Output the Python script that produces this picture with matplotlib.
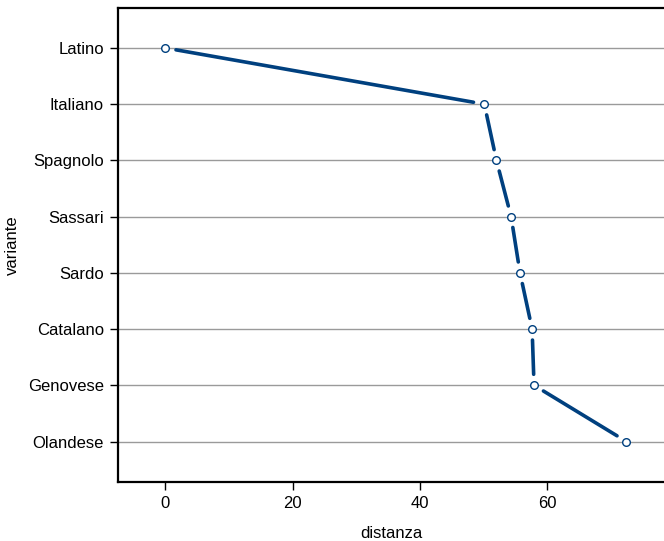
import numpy as np
import matplotlib
matplotlib.use("Agg")
import matplotlib.pyplot as plt

plt.rcParams['font.family'] = ['Liberation Sans', 'DejaVu Sans']

# varianti e distanze
varianti = ["Latino", "Italiano", "Spagnolo", "Sassari", "Sardo",
            "Catalano", "Genovese", "Olandese"]
distanza = [0.0, 50.1, 52.0, 54.3, 55.7, 57.6, 57.9, 72.4]

blu = "#00407f"

fig = plt.figure(figsize=(6.64, 5.41), dpi=100)
ax = fig.add_axes([118 / 664, 59 / 541, 1 - 118 / 664, 474 / 541])

ypos = np.arange(len(varianti))[::-1]
ax.set_xlim(-7.4, 78.3)
ax.set_ylim(-0.72, len(varianti) - 1 + 0.71)

# linee orizzontali grigie
for y in ypos:
    ax.axhline(y, color="#9a9a9a", lw=1.0, zorder=1)

# segmenti con spazio vicino ai punti (stile type="b")
fig.canvas.draw()
pts = ax.transData.transform(np.column_stack([distanza, ypos]))
gap = 11
inv = ax.transData.inverted()
for i in range(len(pts) - 1):
    p0, p1 = pts[i], pts[i + 1]
    d = p1 - p0
    L = np.hypot(*d)
    u = d / L
    a = inv.transform(p0 + u * gap)
    b = inv.transform(p1 - u * gap)
    ax.plot([a[0], b[0]], [a[1], b[1]], color=blu, lw=2.6,
            solid_capstyle="round", zorder=2)

ax.plot(distanza, ypos, ls="none", marker="o", ms=5.5, mfc="white",
        mec=blu, mew=1.0, zorder=3)

ax.set_yticks(ypos)
ax.set_yticklabels(varianti)
ax.set_xticks([0, 20, 40, 60])
ax.tick_params(axis="both", labelsize=12, length=6, width=1.0,
               direction="out")
ax.tick_params(axis="y", pad=4)
ax.tick_params(axis="x", pad=4)
ax.set_xlabel("distanza", fontsize=12, labelpad=11)
ax.set_ylabel("variante", fontsize=12, labelpad=6)

ax.spines['right'].set_visible(False)
for s in ['left', 'top', 'bottom']:
    ax.spines[s].set_linewidth(1.6)

fig.savefig("out.png", dpi=100)
